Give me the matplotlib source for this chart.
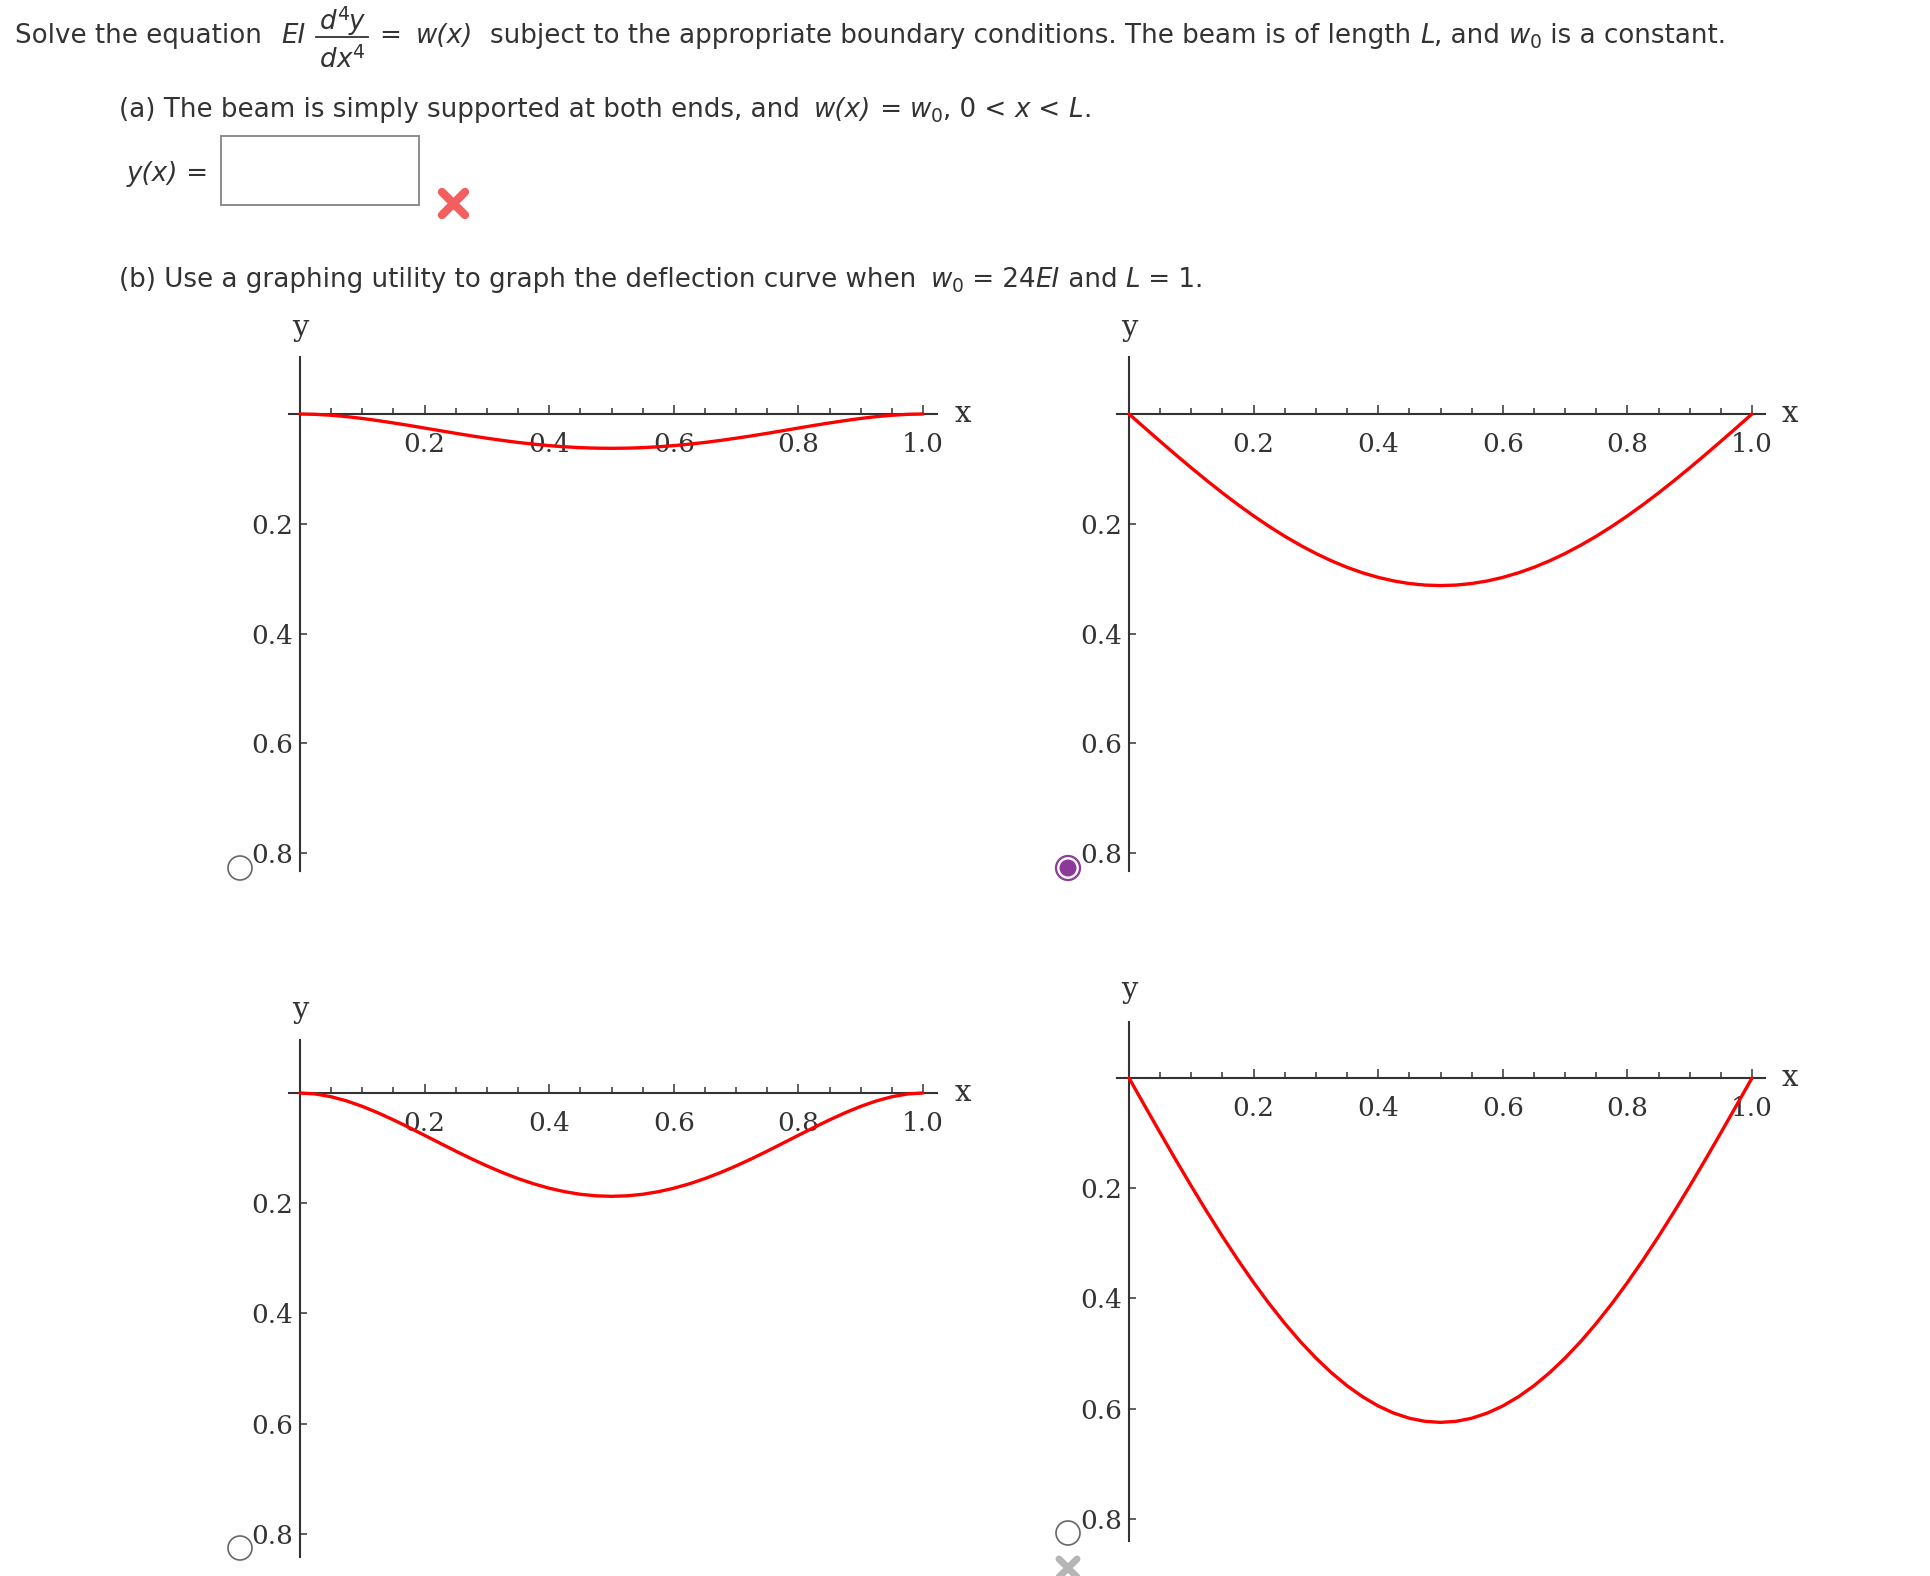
import matplotlib
matplotlib.use("Agg")
import matplotlib.pyplot as plt
import numpy as np
from matplotlib.patches import Circle, Rectangle

W, H = 1930, 1576

# sample grid along the beam (x from 0 to L = 1)
x_vals = np.linspace(0, 1, 41)

# deflection values (positive = downward)
curve_tl = [0.0000, 0.0006, 0.0023, 0.0048, 0.0081, 0.0120, 0.0163, 0.0208, 0.0256, 0.0304,
            0.0352, 0.0398, 0.0441, 0.0481, 0.0518, 0.0549, 0.0576, 0.0597, 0.0613, 0.0622,
            0.0625,
            0.0622, 0.0613, 0.0597, 0.0576, 0.0549, 0.0518, 0.0481, 0.0441, 0.0398, 0.0352,
            0.0304, 0.0256, 0.0208, 0.0163, 0.0120, 0.0081, 0.0048, 0.0023, 0.0006, 0.0000]
curve_tr = [0.0000, 0.0250, 0.0498, 0.0742, 0.0981, 0.1213, 0.1438, 0.1652, 0.1856, 0.2048,
            0.2227, 0.2391, 0.2541, 0.2675, 0.2793, 0.2893, 0.2976, 0.3041, 0.3088, 0.3116,
            0.3125,
            0.3116, 0.3088, 0.3041, 0.2976, 0.2893, 0.2793, 0.2675, 0.2541, 0.2391, 0.2227,
            0.2048, 0.1856, 0.1652, 0.1438, 0.1213, 0.0981, 0.0742, 0.0498, 0.0250, 0.0000]
curve_bl = [0.0000, 0.0018, 0.0068, 0.0144, 0.0243, 0.0359, 0.0488, 0.0625, 0.0768, 0.0912,
            0.1055, 0.1193, 0.1323, 0.1444, 0.1553, 0.1648, 0.1728, 0.1792, 0.1838, 0.1866,
            0.1875,
            0.1866, 0.1838, 0.1792, 0.1728, 0.1648, 0.1553, 0.1444, 0.1323, 0.1193, 0.1055,
            0.0912, 0.0768, 0.0625, 0.0488, 0.0359, 0.0243, 0.0144, 0.0068, 0.0018, 0.0000]
curve_br = [0.0000, 0.0499, 0.0995, 0.1484, 0.1962, 0.2427, 0.2875, 0.3304, 0.3712, 0.4096,
            0.4453, 0.4783, 0.5082, 0.5350, 0.5585, 0.5786, 0.5952, 0.6082, 0.6175, 0.6231,
            0.6250,
            0.6231, 0.6175, 0.6082, 0.5952, 0.5786, 0.5585, 0.5350, 0.5082, 0.4783, 0.4453,
            0.4096, 0.3712, 0.3304, 0.2875, 0.2427, 0.1962, 0.1484, 0.0995, 0.0499, 0.0000]

x_ticks = [0.2, 0.4, 0.6, 0.8, 1.0]
x_tick_labels = ["0.2", "0.4", "0.6", "0.8", "1.0"]
x_minor = [0.05, 0.1, 0.15, 0.25, 0.3, 0.35, 0.45, 0.5, 0.55,
           0.65, 0.7, 0.75, 0.85, 0.9, 0.95]
y_ticks = [0.2, 0.4, 0.6, 0.8]
y_tick_labels = ["0.2", "0.4", "0.6", "0.8"]

TEXT = "#333333"
AXIS = "#333333"
RED = "#ff0000"
PURPLE = "#8b3a98"
SIZE = 18.8

fig = plt.figure(figsize=(W / 100, H / 100), dpi=100)
fig.patch.set_facecolor("white")
bg = fig.add_axes([0, 0, 1, 1])
bg.set_xlim(0, W)
bg.set_ylim(H, 0)
bg.axis("off")
renderer = fig.canvas.get_renderer()


def text_width(s, **kw):
    t1 = bg.text(0, 0, "|" + s + "|", **kw)
    t2 = bg.text(0, 0, "||", **kw)
    w = t1.get_window_extent(renderer).width - t2.get_window_extent(renderer).width
    t1.remove()
    t2.remove()
    return w


def write(x, y, pieces, draw=True):
    """Draw a run of text pieces left to right; numbers are extra gaps in px."""
    for p in pieces:
        if isinstance(p, (int, float)):
            x += p
            continue
        s, kind = p
        size, dy, style = SIZE, 0, "normal"
        if kind == "i":
            style = "italic"
        elif kind == "sub":
            size, dy = SIZE * 0.72, 5
        elif kind == "sup":
            size, dy = SIZE * 0.72, -9
        kw = dict(fontsize=size, family="DejaVu Sans", style=style, color=TEXT)
        if draw:
            bg.text(x, y + dy, s, ha="left", va="baseline", **kw)
        x += text_width(s, **kw)
    return x


# header line with the fraction d4y/dx4
x = write(15, 43, [("Solve the equation", "r")])
x = write(x + 19, 43, [("EI", "i")])
bar0 = x + 11
num = [("d", "i"), ("4", "sup"), ("y", "i")]
den = [("d", "i"), ("x", "i"), ("4", "sup")]
wnum = write(0, 0, num, draw=False)
wden = write(0, 0, den, draw=False)
bar_w = max(wnum, wden) + 8
bg.plot([bar0, bar0 + bar_w], [37, 37], color=TEXT, lw=1.3)
write(bar0 + (bar_w - wnum) / 2, 29, num)
write(bar0 + (bar_w - wden) / 2, 67, den)
x = bar0 + bar_w + 11
write(x, 43, [("=", "r"), 15, ("w(x)", "i"), 17,
              ("subject to the appropriate boundary conditions. The beam is of length ", "r"),
              ("L", "i"), (", and ", "r"), ("w", "i"), ("0", "sub"),
              (" is a constant.", "r")])

write(119, 117, [("(a) The beam is simply supported at both ends, and ", "r"), 6,
                 ("w(x)", "i"), (" = ", "r"), ("w", "i"), ("0", "sub"),
                 (", 0 < ", "r"), ("x", "i"), (" < ", "r"), ("L", "i"), (".", "r")])

write(127, 181, [("y(x)", "i"), (" =", "r")])
bg.add_patch(Rectangle((221, 136), 198, 69, fill=False, ec="#8c8c8c", lw=1.4))
bg.plot([442, 465], [192, 215], color="#f45e5e", lw=6, solid_capstyle="round")
bg.plot([442, 465], [215, 192], color="#f45e5e", lw=6, solid_capstyle="round")

write(119, 287, [("(b) Use a graphing utility to graph the deflection curve when ", "r"), 6,
                 ("w", "i"), ("0", "sub"), (" = 24", "r"), ("EI", "i"), (" and ", "r"),
                 ("L", "i"), (" = 1.", "r")])


def panel(X0, X1, Y0, ky, left, right, top, bottom, ys, ypos, xpos):
    kx = X1 - X0
    ax = fig.add_axes([left / W, 1 - bottom / H, (right - left) / W, (bottom - top) / H])
    ax.patch.set_alpha(0)
    ax.set_xlim((left - X0) / kx, (right - X0) / kx)
    ax.set_ylim((bottom - Y0) / ky, (top - Y0) / ky)
    for side in ["top", "right"]:
        ax.spines[side].set_visible(False)
    for side in ["left", "bottom"]:
        ax.spines[side].set_position(("data", 0))
        ax.spines[side].set_color(AXIS)
        ax.spines[side].set_linewidth(1.5)
    ax.set_xticks(x_ticks)
    ax.set_xticklabels(x_tick_labels)
    ax.set_xticks(x_minor, minor=True)
    ax.set_yticks(y_ticks)
    ax.set_yticklabels(y_tick_labels)
    ax.tick_params(axis="x", which="major", direction="in", length=6.5, width=1.1,
                   pad=13, colors=AXIS, labelsize=19, labelcolor=TEXT)
    ax.tick_params(axis="x", which="minor", direction="in", length=4.3, width=1.1,
                   colors=AXIS)
    ax.tick_params(axis="y", which="major", direction="in", length=5, width=1.1,
                   pad=5, colors=AXIS, labelsize=19, labelcolor=TEXT)
    for lab in ax.get_xticklabels() + ax.get_yticklabels():
        lab.set_family("DejaVu Serif")
    ax.plot(x_vals, ys, color=RED, lw=2.4, zorder=3, solid_capstyle="round",
            solid_joinstyle="round")
    bg.text(ypos[0], ypos[1], "y", family="DejaVu Serif", fontsize=21,
            color=TEXT, ha="center", va="center")
    bg.text(xpos[0], xpos[1], "x", family="DejaVu Serif", fontsize=21,
            color=TEXT, ha="center", va="center")
    return ax


panel(300, 923, 414, 549, 289, 937, 357, 871, curve_tl, (300, 328), (963, 414))
panel(1129, 1752, 414, 549, 1117, 1765, 357, 871, curve_tr, (1129, 328), (1790, 414))
panel(300, 923, 1093, 551, 289, 937, 1040, 1557, curve_bl, (300, 1010), (963, 1093))
panel(1129, 1752, 1078, 551, 1117, 1765, 1022, 1541, curve_br, (1129, 990), (1790, 1078))

# radio buttons
for cx, cy in [(240, 868), (240, 1548), (1068, 1533)]:
    bg.add_patch(Circle((cx, cy), 12, fill=False, ec="#666666", lw=1.2))
bg.add_patch(Circle((1068, 868), 12, fill=False, ec=PURPLE, lw=1.6))
bg.add_patch(Circle((1068, 868), 8.5, fc=PURPLE, ec="none"))
bg.plot([1059, 1077], [1559, 1577], color="#b5b5b5", lw=5, solid_capstyle="round")
bg.plot([1059, 1077], [1577, 1559], color="#b5b5b5", lw=5, solid_capstyle="round")

fig.savefig("out.png", dpi=100, facecolor="white")
